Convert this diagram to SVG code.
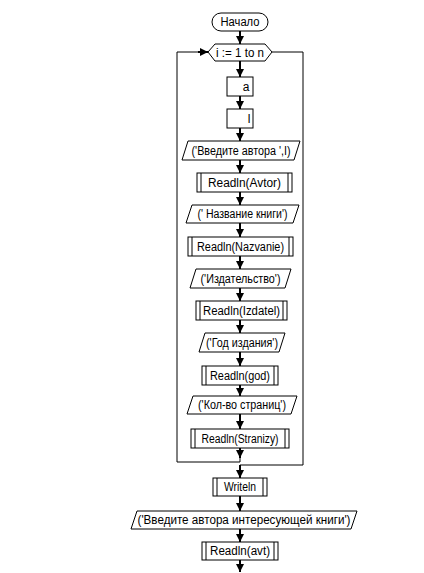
<svg xmlns="http://www.w3.org/2000/svg" width="424" height="573" viewBox="0 0 424 573">
<defs>
<style>
.s{fill:#fff;stroke:#000;stroke-width:1}
.t{font-family:"Liberation Sans",Arial,sans-serif;font-size:12px;fill:#000;text-anchor:middle}
.c{fill:none;stroke:#000;stroke-width:1}
.a{fill:none;stroke:#000;stroke-width:2}
</style>
<marker id="ah" viewBox="0 0 8 8" refX="8" refY="4" markerWidth="8" markerHeight="8" markerUnits="userSpaceOnUse" orient="auto">
<path d="M0,0 L8,4 L0,8 Z" fill="#000"/>
</marker>
</defs>
<rect width="424" height="573" fill="#fff"/>
<g id="connectors">
<path class="a" d="M240,31 V44" marker-end="url(#ah)"/>
<path class="a" d="M240,61 V77" marker-end="url(#ah)"/>
<path class="a" d="M240,96 V109" marker-end="url(#ah)"/>
<path class="a" d="M240,128 V141" marker-end="url(#ah)"/>
<path class="a" d="M240,160 V173" marker-end="url(#ah)"/>
<path class="a" d="M240,192 V205" marker-end="url(#ah)"/>
<path class="a" d="M240,223 V237" marker-end="url(#ah)"/>
<path class="a" d="M240,256 V269" marker-end="url(#ah)"/>
<path class="a" d="M240,288 V301" marker-end="url(#ah)"/>
<path class="a" d="M240,320 V333" marker-end="url(#ah)"/>
<path class="a" d="M240,352 V366" marker-end="url(#ah)"/>
<path class="a" d="M240,385 V396" marker-end="url(#ah)"/>
<path class="a" d="M240,414 V429" marker-end="url(#ah)"/>
<path class="a" d="M240,448 V458" marker-end="url(#ah)"/>
<path class="c" d="M240,457 V462 H177 V52 H200"/>
<path class="a" d="M198,52 H208" marker-end="url(#ah)"/>
<path class="c" d="M272,52 H303 V465 H240 V470"/>
<path class="a" d="M240,465 V478" marker-end="url(#ah)"/>
<path class="a" d="M240,496 V511" marker-end="url(#ah)"/>
<path class="a" d="M240,529 V542" marker-end="url(#ah)"/>
<path class="a" d="M240,560 V572" marker-end="url(#ah)"/>
</g>
<g id="start">
<rect class="s" x="212" y="13" width="56" height="18" rx="9" ry="9"/>
<text class="t" x="240" y="26" textLength="39" lengthAdjust="spacingAndGlyphs">Начало</text>
</g>
<g id="loop">
<polygon class="s" points="208,52 215,44 265,44 272,52 265,61 215,61"/>
<text class="t" x="240" y="57" textLength="48" lengthAdjust="spacingAndGlyphs">i := 1 to n</text>
</g>
<g id="box-a">
<rect class="s" x="227" y="77" width="26" height="19"/>
<text class="t" x="246" y="91">a</text>
</g>
<g id="box-l">
<rect class="s" x="227" y="109" width="26" height="19"/>
<text class="t" x="249" y="123">l</text>
</g>
<g id="out-avtor">
<polygon class="s" points="188,141 300,141 294,160 182,160"/>
<text class="t" x="241" y="155" textLength="99" lengthAdjust="spacingAndGlyphs">('Введите автора ',I)</text>
</g>
<g id="read-avtor">
<rect class="s" x="197" y="173" width="95" height="19"/>
<path class="c" d="M201,173 V192 M288,173 V192"/>
<text class="t" x="244.5" y="187" textLength="73" lengthAdjust="spacingAndGlyphs">Readln(Avtor)</text>
</g>
<g id="out-nazvanie">
<polygon class="s" points="192,205 299,205 293,223 186,223"/>
<text class="t" x="242.5" y="218" textLength="90" lengthAdjust="spacingAndGlyphs">(' Название книги')</text>
</g>
<g id="read-nazvanie">
<rect class="s" x="188" y="237" width="105" height="19"/>
<path class="c" d="M192,237 V256 M289,237 V256"/>
<text class="t" x="240.5" y="251" textLength="87" lengthAdjust="spacingAndGlyphs">Readln(Nazvanie)</text>
</g>
<g id="out-izdatel">
<polygon class="s" points="196,269 291,269 285,288 190,288"/>
<text class="t" x="240.5" y="283" textLength="80" lengthAdjust="spacingAndGlyphs">('Издательство')</text>
</g>
<g id="read-izdatel">
<rect class="s" x="196" y="301" width="91" height="19"/>
<path class="c" d="M200,301 V320 M283,301 V320"/>
<text class="t" x="241.5" y="315" textLength="77" lengthAdjust="spacingAndGlyphs">Readln(Izdatel)</text>
</g>
<g id="out-god">
<polygon class="s" points="205,333 285,333 279,352 199,352"/>
<text class="t" x="242" y="347" textLength="72" lengthAdjust="spacingAndGlyphs">('Год издания')</text>
</g>
<g id="read-god">
<rect class="s" x="202" y="366" width="76" height="19"/>
<path class="c" d="M206,366 V385 M274,366 V385"/>
<text class="t" x="240" y="380" textLength="60" lengthAdjust="spacingAndGlyphs">Readln(god)</text>
</g>
<g id="out-stranizy">
<polygon class="s" points="193,396 297,396 291,414 187,414"/>
<text class="t" x="242" y="409" textLength="88" lengthAdjust="spacingAndGlyphs">('Кол-во страниц')</text>
</g>
<g id="read-stranizy">
<rect class="s" x="191" y="429" width="98" height="19"/>
<path class="c" d="M195,429 V448 M285,429 V448"/>
<text class="t" x="240" y="443" textLength="77" lengthAdjust="spacingAndGlyphs">Readln(Stranizy)</text>
</g>
<g id="writeln">
<rect class="s" x="213" y="478" width="54" height="18"/>
<path class="c" d="M217,478 V496 M263,478 V496"/>
<text class="t" x="240" y="491" textLength="32" lengthAdjust="spacingAndGlyphs">Writeln</text>
</g>
<g id="out-avt">
<polygon class="s" points="137,511 357,511 351,529 131,529"/>
<text class="t" x="244" y="524" textLength="213" lengthAdjust="spacingAndGlyphs">('Введите автора интересующей книги')</text>
</g>
<g id="read-avt">
<rect class="s" x="202" y="542" width="76" height="18"/>
<path class="c" d="M206,542 V560 M274,542 V560"/>
<text class="t" x="240" y="555" textLength="60" lengthAdjust="spacingAndGlyphs">Readln(avt)</text>
</g>
</svg>
